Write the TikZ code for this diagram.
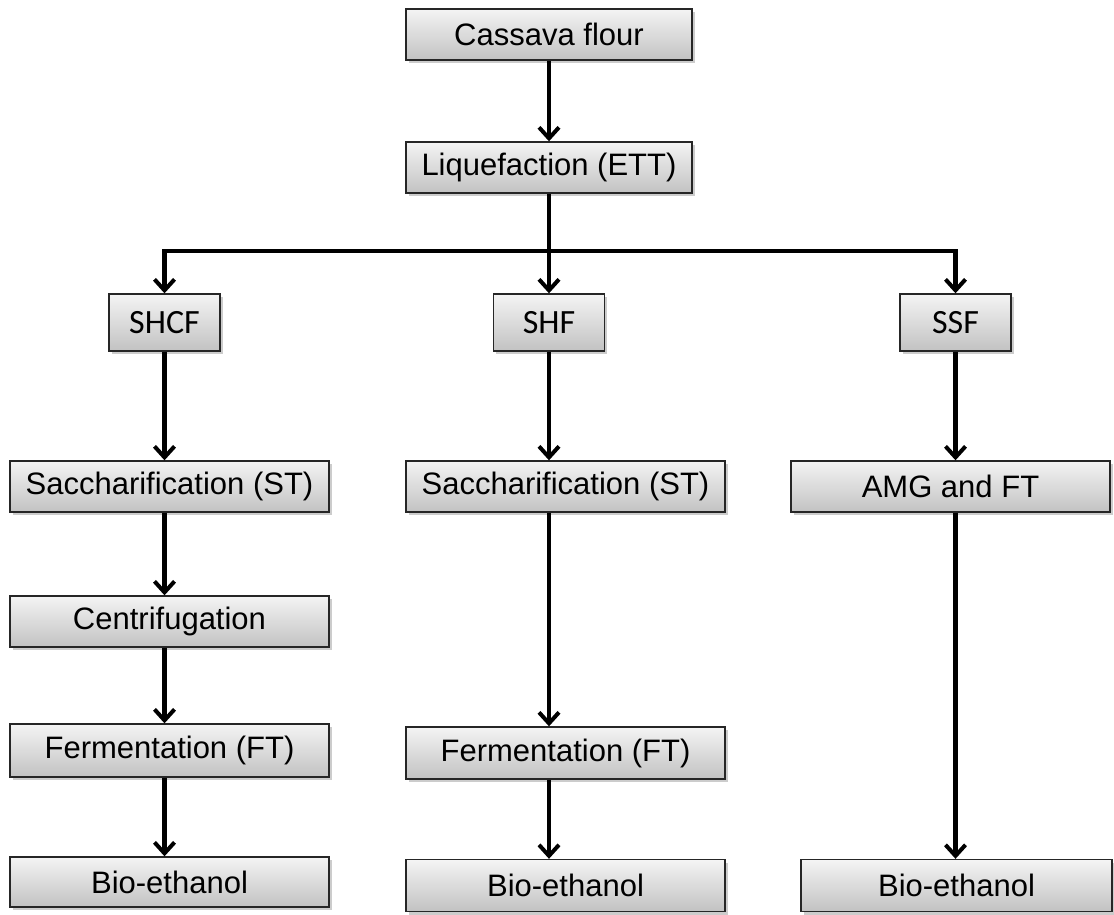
\documentclass[tikz,border=0pt]{standalone}
\usepackage{fontspec}
\setmainfont{Liberation Sans}
\newfontfamily\calib{Carlito}
\usetikzlibrary{arrows.meta,shadows}
\begin{document}
\begin{tikzpicture}[x=1pt,y=-1pt,
  box/.style={draw=black!85, line width=1.4pt, inner sep=0pt,
    top color={rgb,255:red,244;green,244;blue,244},
    bottom color={rgb,255:red,194;green,194;blue,194},
    drop shadow={shadow xshift=2.5pt, shadow yshift=-3pt, fill=black!40, opacity=0.5},
    font=\fontsize{31}{34}\selectfont, text=black},
  wide/.style={box, minimum width=319pt, minimum height=51pt},
  small/.style={box, minimum width=111pt, minimum height=57pt, font=\calib\fontsize{34}{36}\selectfont},
  conn/.style={line width=4.6pt, line join=miter, draw=black},
  arr/.style={conn, -{Straight Barb[length=11pt,width=20pt,line width=4pt]}}
]
\useasboundingbox (0,0) rectangle (1114,914);
\node[box, minimum width=286pt, minimum height=51pt] (cassava) at (549,34.5) {Cassava flour};
\node[box, minimum width=286pt, minimum height=51pt] (liq) at (549,167.5) {Liquefaction (ETT)};
\node[small] (shcf) at (164.5,322.5) {SHCF};
\node[small] (shf) at (549,322.5) {SHF};
\node[small] (ssf) at (955.5,322.5) {SSF};
\node[wide] (sacc1) at (169.5,486.5) {Saccharification (ST)};
\node[wide] (sacc2) at (565.5,486.5) {Saccharification (ST)};
\node[wide] (amg) at (950.5,486.5) {AMG and FT};
\node[wide] (cent) at (169.5,621.5) {Centrifugation};
\node[wide, minimum height=53pt] (ferm1) at (169.5,750.5) {Fermentation (FT)};
\node[wide, minimum height=52pt] (ferm2) at (565.5,753) {Fermentation (FT)};
\node[wide, minimum height=50pt] (bio1) at (169.5,882) {Bio-ethanol};
\node[wide, minimum height=52pt] (bio2) at (565.5,885.5) {Bio-ethanol};
\node[wide, minimum width=311pt, minimum height=52pt] (bio3) at (956.5,885.5) {Bio-ethanol};
\coordinate (jM) at (549,251);
\coordinate (jL) at (164.5,251);
\coordinate (jR) at (955.5,251);
\draw[arr] (cassava.south) -- (liq.north);
\draw[arr] (liq.south) -- (shf.north);
\draw[arr] (jM) -- (jL) -- (shcf.north);
\draw[arr] (jM) -- (jR) -- (ssf.north);
\draw[arr] (shcf.south) -- (sacc1.north -| shcf.south);
\draw[arr] (sacc1.south -| shcf.south) -- (cent.north -| shcf.south);
\draw[arr] (cent.south -| shcf.south) -- (ferm1.north -| shcf.south);
\draw[arr] (ferm1.south -| shcf.south) -- (bio1.north -| shcf.south);
\draw[arr] (shf.south) -- (sacc2.north -| shf.south);
\draw[arr] (sacc2.south -| shf.south) -- (ferm2.north -| shf.south);
\draw[arr] (ferm2.south -| shf.south) -- (bio2.north -| shf.south);
\draw[arr] (ssf.south) -- (amg.north -| ssf.south);
\draw[arr] (amg.south -| ssf.south) -- (bio3.north -| ssf.south);
\end{tikzpicture}
\end{document}
